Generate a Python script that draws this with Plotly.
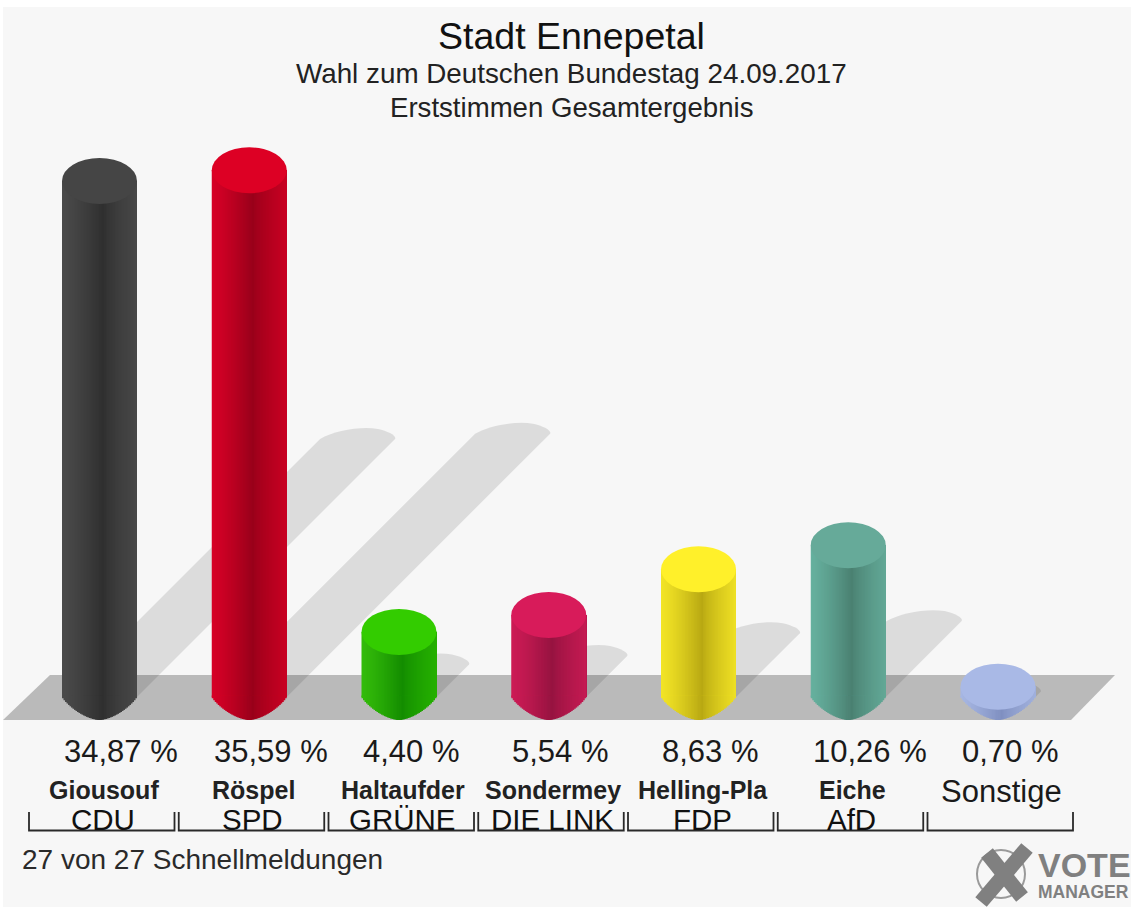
import plotly.graph_objects as go

# ---------- data ----------
candidates = ["Giousouf", "Röspel", "Haltaufder", "Sondermey", "Helling-Pla", "Eiche", "Sonstige"]
parties = ["CDU", "SPD", "GRÜNE", "DIE LINK", "FDP", "AfD", ""]
values = [34.87, 35.59, 4.40, 5.54, 8.63, 10.26, 0.70]
value_labels = ["34,87 %", "35,59 %", "4,40 %", "5,54 %", "8,63 %", "10,26 %", "0,70 %"]
top_colors = ["#454545", "#dd0024", "#33cc00", "#d81b5a", "#fff02a", "#66aa99", "#a9b9e6"]
edge_colors = ["#4a4a4a", "#d60026", "#33bb0a", "#cc1b55", "#f2e426", "#66b09e", "#a6b6e2"]
dark_colors = ["#2f2f2f", "#98001a", "#138c00", "#961340", "#b8a812", "#4a8071", "#7f8fc0"]
right_colors = ["#484848", "#c80022", "#25b000", "#c41a52", "#eee024", "#62a896", "#a0b0dc"]

title = "Stadt Ennepetal"
subtitle = "Wahl zum Deutschen Bundestag 24.09.2017"
subtitle2 = "Erststimmen Gesamtergebnis"
footer = "27 von 27 Schnellmeldungen"

# ---------- geometry of the page ----------
W, H = 1131, 911
X0, DX = 99.5, 149.75   # pixel of first category, pixels per category
Y0, DY = 697.0, 14.8    # pixel of value 0, pixels per percent
BAR_PX = 75.0
RY_PX = 23.0


def xd(px):
    return (px - X0) / DX


def yd(py):
    return (Y0 - py) / DY


def hex2rgb(c):
    return tuple(int(c[i:i + 2], 16) for i in (1, 3, 5))


def mix(a, b, t):
    ra, rb = hex2rgb(a), hex2rgb(b)
    return "rgb(%d,%d,%d)" % tuple(round(ra[i] + (rb[i] - ra[i]) * t) for i in range(3))


def shade(i, t):
    """t in 0..1 across the cylinder"""
    dark_at = 0.55
    if t < dark_at:
        return mix(edge_colors[i], dark_colors[i], (t / dark_at) ** 1.25)
    return mix(dark_colors[i], right_colors[i], ((t - dark_at) / (1 - dark_at)) ** 0.75)


shapes = []
# page background
shapes.append(dict(type="rect", xref="paper", yref="paper", x0=3 / W, x1=1, y0=1 - 907 / H, y1=1 - 7 / H,
                   fillcolor="#f7f7f7", line_width=0, layer="below"))
# floor
shapes.append(dict(type="path", xref="x", yref="y", layer="below", fillcolor="#bababa", line_width=0,
                   path=f"M {xd(3)} {yd(720)} L {xd(50)} {yd(675)} L {xd(1115)} {yd(675)} L {xd(1071)} {yd(720)} Z"))
# shadows: they follow the value at 45 degrees
for i, v in enumerate(values):
    s = 7.4 * v
    cx = X0 + DX * i
    lx, rx = cx - BAR_PX / 2, cx + BAR_PX / 2
    ly = ry = Y0 - s
    shapes.append(dict(
        type="path", xref="x", yref="y", layer="below", fillcolor="rgba(0,0,0,0.105)", line_width=0,
        path=(f"M {xd(lx)} {yd(Y0)} L {xd(lx + s)} {yd(ly)} "
              f"C {xd(lx + s + 14)} {yd(ly - 8)} {xd(lx + s + 40)} {yd(ly - 13)} {xd(lx + s + 58)} {yd(ly - 10)} "
              f"C {xd(lx + s + 68)} {yd(ly - 8)} {xd(rx + s + 2)} {yd(ly - 3)} {xd(rx + s)} {yd(ry)} "
              f"L {xd(rx)} {yd(Y0)} Z")))

fig = go.Figure()

# cylinder bodies: each slice runs to the right edge and the next one paints over it,
# so the shading across the cylinder has no seams
N = 50
BAR_W = BAR_PX / DX
step = BAR_W / N
xs = list(range(len(values)))
for k in range(N):
    t = (k + 0.5) / N
    offs = -BAR_W / 2 + k * step
    fig.add_trace(go.Bar(x=xs, y=values, base=0, width=(N - k) * step, offset=offs,
                         marker=dict(color=[shade(i, t) for i in xs], line_width=0),
                         hoverinfo="skip", showlegend=False))


# rounded foot below the zero line, painted from both outer edges towards the middle
def foot_slice(k):
    t = (k + 0.5) / N
    u = abs(2 * t - 1)
    foot = (RY_PX / DY) * (1 - u ** 1.7) ** 0.85
    if k < N / 2:
        offs = -BAR_W / 2 + k * step
        width = (N / 2 - k) * step
    else:
        offs = 0.0
        width = (k + 1 - N / 2) * step
    fig.add_trace(go.Bar(x=xs, y=[foot + 0.1] * len(xs), base=-foot, width=width, offset=offs,
                         marker=dict(color=[shade(i, t) for i in xs], line_width=0),
                         hoverinfo="skip", showlegend=False))


for k in range(N // 2):
    foot_slice(k)
for k in range(N - 1, N // 2 - 1, -1):
    foot_slice(k)

# cylinder tops
for i, v in enumerate(values):
    shapes.append(dict(type="circle", xref="x", yref="y", layer="above",
                       x0=i - BAR_W / 2, x1=i + BAR_W / 2,
                       y0=v - RY_PX / DY, y1=v + RY_PX / DY,
                       fillcolor=top_colors[i], line_width=0))

# brackets under the categories
for i in xs:
    l, r = i + xd(29), i + xd(174.5)
    shapes.append(dict(type="path", xref="x", yref="y", layer="above", line=dict(color="#2a2a2a", width=1.8),
                       path=f"M {l} {yd(812)} L {l} {yd(830.5)} L {r} {yd(830.5)} L {r} {yd(812)}"))

# logo cross
shapes.append(dict(type="circle", xref="paper", yref="paper", layer="above",
                   x0=977 / W, x1=1025 / W, y0=1 - 898 / H, y1=1 - 850 / H,
                   fillcolor="rgba(0,0,0,0)", line=dict(color="#9a9a9a", width=2)))
shapes.append(dict(type="line", xref="paper", yref="paper", layer="above",
                   x0=987 / W, y0=1 - 853 / H, x1=1022 / W, y1=1 - 897 / H, line=dict(color="#808080", width=15)))
shapes.append(dict(type="line", xref="paper", yref="paper", layer="above",
                   x0=1027 / W, y0=1 - 848 / H, x1=981 / W, y1=1 - 902 / H, line=dict(color="#808080", width=15)))

FONT = "Liberation Sans, Arial, sans-serif"
TEXT = "#1a1a1a"


def note(text, px, py, size, color=TEXT, anchor="center", family=FONT):
    return dict(text=text, xref="paper", yref="paper", x=px / W, y=1 - py / H, xanchor=anchor, yanchor="middle",
                showarrow=False, font=dict(family=family, size=size, color=color))


anns = [
    note(title, 571.5, 36, 37.5, "#111111"),
    note(subtitle, 571.5, 73, 27.8, "#222222"),
    note(subtitle2, 571, 108, 27.6, "#222222"),
    note(footer, 20, 859, 28, "#2a2a2a", "left"),
    note("<b>VOTE</b>", 1036, 865, 34, "#808080", "left"),
    note("<b>MANAGER</b>", 1036, 892, 17.5, "#808080", "left"),
]
for i in xs:
    cx = X0 + DX * i
    anns.append(note(value_labels[i], cx + (21.5 if len(value_labels[i]) > 6 else 12), 751, 31))
    if parties[i]:
        anns.append(note("<b>%s</b>" % candidates[i], cx + 4, 790, 25, "#222222"))
        anns.append(note(parties[i], cx + 3.5, 819, 29.5, "#111111"))
    else:
        anns.append(note(candidates[i], cx + 3, 791, 31))

fig.update_layout(
    width=W, height=H, autosize=False, barmode="overlay", showlegend=False,
    margin=dict(l=0, r=0, t=0, b=0, pad=0),
    paper_bgcolor="#ffffff", plot_bgcolor="rgba(0,0,0,0)",
    xaxis=dict(range=[xd(0), xd(W)], visible=False, fixedrange=True),
    yaxis=dict(range=[yd(H), yd(0)], visible=False, fixedrange=True),
    shapes=shapes, annotations=anns,
)

fig.write_html("out.html", config={"displayModeBar": False},
               post_script="document.body.style.margin='0';document.body.style.overflow='hidden';")
